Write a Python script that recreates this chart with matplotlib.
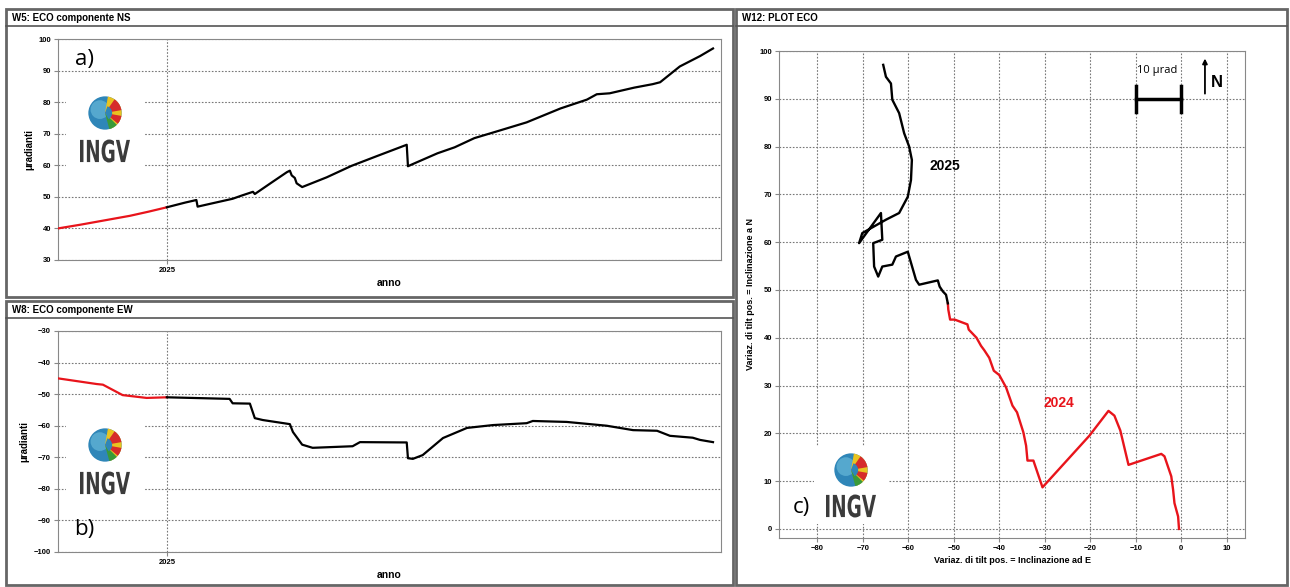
import matplotlib
matplotlib.use("Agg")
import matplotlib.pyplot as plt
from matplotlib.patches import Rectangle, Circle, Wedge, PathPatch
from matplotlib.lines import Line2D
from matplotlib.textpath import TextPath
from matplotlib.font_manager import FontProperties
from matplotlib.transforms import Affine2D

plt.rcParams['font.family'] = ['Liberation Sans', 'DejaVu Sans']

W, H = 1290, 587

# --- NS component (decimal year, microradians)
ns_red_t = [2024.823, 2024.860, 2024.900, 2024.940, 2024.970, 2025.000]
ns_red_v = [40.0, 41.2, 42.6, 44.0, 45.3, 46.7]
ns_blk_t = [2025.000, 2025.030, 2025.048, 2025.050, 2025.075, 2025.107, 2025.120,
            2025.140, 2025.143, 2025.170, 2025.195, 2025.200, 2025.203, 2025.208,
            2025.211, 2025.220, 2025.260, 2025.300, 2025.340, 2025.390, 2025.392,
            2025.400, 2025.440, 2025.468, 2025.500, 2025.541, 2025.585, 2025.640,
            2025.683, 2025.699, 2025.720, 2025.760, 2025.790, 2025.802, 2025.834,
            2025.867, 2025.888]
ns_blk_v = [46.7, 48.2, 49.0, 46.9, 48.0, 49.4, 50.3,
            51.6, 50.9, 54.5, 57.8, 58.3, 56.8, 56.0,
            54.3, 53.1, 56.2, 59.8, 62.8, 66.5, 59.7,
            60.4, 63.8, 65.7, 68.6, 71.0, 73.6, 78.0,
            80.8, 82.5, 82.8, 84.6, 85.7, 86.3, 91.3,
            94.6, 97.0]

# --- EW component
ew_red_t = [2024.823, 2024.886, 2024.896, 2024.928, 2024.967, 2025.000]
ew_red_v = [-45.0, -46.8, -47.0, -50.3, -51.2, -51.0]
ew_blk_t = [2025.000, 2025.102, 2025.107, 2025.135, 2025.143, 2025.156, 2025.200,
            2025.205, 2025.220, 2025.237, 2025.302, 2025.314, 2025.390, 2025.392,
            2025.400, 2025.416, 2025.449, 2025.488, 2025.530, 2025.585, 2025.595,
            2025.650, 2025.715, 2025.758, 2025.797, 2025.818, 2025.855, 2025.867,
            2025.888]
ew_blk_v = [-51.0, -51.5, -52.9, -53.0, -57.6, -58.2, -59.5,
            -62.0, -66.0, -67.0, -66.5, -65.2, -65.3, -70.3,
            -70.5, -69.3, -63.9, -60.7, -59.8, -59.2, -58.5,
            -58.8, -60.0, -61.4, -61.6, -63.2, -63.8, -64.5,
            -65.2]

# --- ECO plot (E tilt, N tilt)
eco_red_e = [-0.5, -0.7, -1.5, -1.8, -2.2, -3.7, -4.4, -11.6, -13.4, -14.7, -16.0,
             -20.2, -30.5, -32.5, -33.8, -34.1, -34.7, -36.1, -37.1, -38.5, -40.0,
             -41.2, -42.2, -43.3, -44.0, -45.0, -46.7, -47.0, -49.8, -50.8, -51.2,
             -51.3]
eco_red_n = [0.0, 2.6, 5.4, 8.2, 11.0, 15.2, 15.7, 13.4, 20.6, 23.7, 24.7,
             19.5, 8.7, 14.3, 14.3, 17.4, 20.2, 24.4, 25.8, 29.6, 32.2,
             33.1, 35.8, 37.4, 38.3, 40.0, 41.7, 42.8, 43.8, 43.8, 45.9,
             47.2]
eco_blk_e = [-51.3, -51.7, -52.4, -53.1, -53.5, -57.6, -58.3, -60.1, -62.7, -63.5,
             -65.7, -66.6, -67.5, -67.7, -65.7, -66.0, -70.8, -70.1, -64.9, -62.0,
             -60.1, -59.4, -59.2, -59.8, -60.9, -62.0, -63.5, -63.8, -64.9, -65.5]
eco_blk_n = [47.2, 49.0, 49.7, 50.7, 52.0, 51.1, 52.1, 58.0, 57.0, 55.3,
             54.9, 52.8, 54.9, 59.8, 60.5, 66.1, 59.8, 61.9, 64.7, 66.1,
             69.5, 73.0, 77.2, 80.0, 82.8, 87.0, 89.8, 93.2, 94.6, 97.1]


def fx(x):
    return x / W


def fy(y):
    return 1 - y / H


def rect(x0, y0, x1, y1):
    return [fx(x0), fy(y1), (x1 - x0) / W, (y1 - y0) / H]


fig = plt.figure(figsize=(12.9, 5.87), dpi=100)


def panel(x0, y0, x1, y1, title):
    fig.add_artist(Rectangle((fx(x0), fy(y1)), (x1 - x0) / W, (y1 - y0) / H,
                             transform=fig.transFigure, fill=False,
                             edgecolor='#666666', lw=2.0))
    fig.add_artist(Line2D([fx(x0), fx(x1)], [fy(y0 + 17), fy(y0 + 17)],
                          transform=fig.transFigure, color='#555555', lw=1.2))
    fig.text(fx(x0 + 6), fy(y0 + 9), title, fontsize=7, fontweight='bold',
             va='center', ha='left')


ingv_path = TextPath((0, 0), 'INGV', size=20,
                     prop=FontProperties(family='DejaVu Sans', weight='bold'))
ib = ingv_path.get_extents()


def logo(cx, cy, ty, box):
    bx0, by0, bx1, by1 = box
    fig.add_artist(Rectangle((fx(bx0), fy(by1)), (bx1 - bx0) / W, (by1 - by0) / H,
                             transform=fig.transFigure, facecolor='white',
                             edgecolor='none', zorder=3))
    r = 17
    gax = fig.add_axes(rect(cx - r, cy - r, cx + r, cy + r), zorder=4)
    gax.set_xlim(-1, 1)
    gax.set_ylim(-1, 1)
    gax.set_aspect('equal')
    gax.axis('off')
    gax.add_patch(Circle((0, 0), 0.98, facecolor='#2f86b8', edgecolor='none'))
    gax.add_patch(Circle((-0.3, 0.2), 0.55, facecolor='#6fc0de', edgecolor='none', alpha=0.6))
    gax.add_patch(Wedge((0, 0), 0.98, -70, 80, facecolor='#e8c320', edgecolor='none'))
    gax.add_patch(Wedge((0, 0), 0.98, 10, 55, facecolor='#d62b2b', edgecolor='none'))
    gax.add_patch(Wedge((0, 0), 0.98, -40, -10, facecolor='#d62b2b', edgecolor='none'))
    gax.add_patch(Wedge((0, 0), 0.98, -75, -45, facecolor='#3a9a3a', edgecolor='none'))
    gax.add_patch(Wedge((0, 0), 0.42, -60, 70, facecolor='#2f86b8', edgecolor='none'))
    # INGV lettering squeezed to the logo's condensed shape
    tw, th = 50, 23
    tr = (Affine2D().translate(-ib.x0, -ib.y0)
          .scale(tw / ib.width, th / ib.height)
          .translate(cx - tw / 2, H - (ty + th / 2)))
    fig.add_artist(PathPatch(ingv_path, transform=tr, facecolor='#3b3b3b',
                             edgecolor='none', zorder=5))


def ts_axes(x0, y0, x1, y1, ylim, t_red, v_red, t_blk, v_blk, yticks):
    ax = fig.add_axes(rect(x0, y0, x1, y1))
    ax.plot(t_red, v_red, color='#e8141b', lw=1.6, zorder=3)
    ax.plot(t_blk, v_blk, color='black', lw=1.6, zorder=3)
    ax.set_xlim(2024.823, 2025.901)
    ax.set_ylim(*ylim)
    ax.set_xticks([2025.0])
    ax.set_xticklabels(['2025'])
    ax.set_yticks(yticks)
    ax.grid(True, linestyle=(0, (1.5, 1.5)), color='#777777', lw=0.8)
    for s in ax.spines.values():
        s.set_color('#888888')
        s.set_linewidth(0.8)
    ax.tick_params(labelsize=5.5, length=3, color='#888888', pad=2)
    for lab in ax.get_xticklabels() + ax.get_yticklabels():
        lab.set_fontweight('bold')
    ax.set_xlabel('anno', fontsize=7.5, fontweight='bold', labelpad=3)
    ax.set_ylabel('μradianti', fontsize=7, fontweight='bold', labelpad=3)
    return ax


# panels
panel(6, 9, 733, 297, 'W5: ECO componente NS')
panel(6, 301, 733, 585, 'W8: ECO componente EW')
panel(736, 9, 1287, 585, 'W12: PLOT ECO')

ax_a = ts_axes(58, 39, 721, 260, (30, 100), ns_red_t, ns_red_v, ns_blk_t, ns_blk_v,
               range(30, 101, 10))
ax_b = ts_axes(58, 331, 721, 552, (-100, -30), ew_red_t, ew_red_v, ew_blk_t, ew_blk_v,
               range(-100, -29, 10))

# ECO plot
ax_c = fig.add_axes(rect(779, 51, 1245, 538))
ax_c.plot(eco_red_e, eco_red_n, color='#e8141b', lw=1.7, zorder=3)
ax_c.plot(eco_blk_e, eco_blk_n, color='black', lw=1.7, zorder=3)
ax_c.set_xlim(-88.4, 14)
ax_c.set_ylim(-1.9, 100)
ax_c.set_xticks(range(-80, 11, 10))
ax_c.set_yticks(range(0, 101, 10))
ax_c.grid(True, linestyle=(0, (1.5, 1.5)), color='#777777', lw=0.8)
for s in ax_c.spines.values():
    s.set_color('#888888')
    s.set_linewidth(0.8)
ax_c.tick_params(labelsize=5.5, length=3, color='#888888', pad=2)
for lab in ax_c.get_xticklabels() + ax_c.get_yticklabels():
    lab.set_fontweight('bold')
ax_c.set_xlabel('Variaz. di tilt pos. = Inclinazione ad E', fontsize=6.5,
                fontweight='bold', labelpad=3)
ax_c.set_ylabel('Variaz. di tilt pos. = Inclinazione a N', fontsize=6.5,
                fontweight='bold', labelpad=3)
ax_c.text(-52, 76, '2025', fontsize=10, fontweight='bold', color='black',
          ha='center', va='center')
ax_c.text(-26.8, 26.3, '2024', fontsize=10, fontweight='bold', color='#e8141b',
          ha='center', va='center')
# scale bar 10 urad
ax_c.plot([-10, 0], [90, 90], color='black', lw=2.5)
ax_c.plot([-10, -10], [87.3, 92.7], color='black', lw=2.5)
ax_c.plot([0, 0], [87.3, 92.7], color='black', lw=2.5)
ax_c.text(-5.2, 96, '10 µrad', fontsize=8, ha='center', va='center',
          family=['Open Sans', 'DejaVu Sans'])
ax_c.annotate('', xy=(5.2, 99), xytext=(5.2, 90.5),
              arrowprops=dict(arrowstyle='-|>', color='black', lw=1.3,
                              mutation_scale=7))
ax_c.text(7.8, 93.5, 'N', fontsize=12, fontweight='bold', ha='center', va='center')

# logos and panel letters
logo(105, 113, 151, (66, 86, 144, 174))
fig.text(fx(84), fy(60), 'a)', fontsize=16, ha='center', va='center',
         family=['Open Sans', 'DejaVu Sans'])
logo(105, 445, 483, (66, 404, 144, 512))
fig.text(fx(84), fy(530), 'b)', fontsize=16, ha='center', va='center',
         family=['Open Sans', 'DejaVu Sans'])
logo(851, 470, 506, (814, 446, 888, 524))
fig.text(fx(801), fy(508), 'c)', fontsize=16, ha='center', va='center',
         family=['Open Sans', 'DejaVu Sans'])

fig.savefig('out.png', dpi=100)
